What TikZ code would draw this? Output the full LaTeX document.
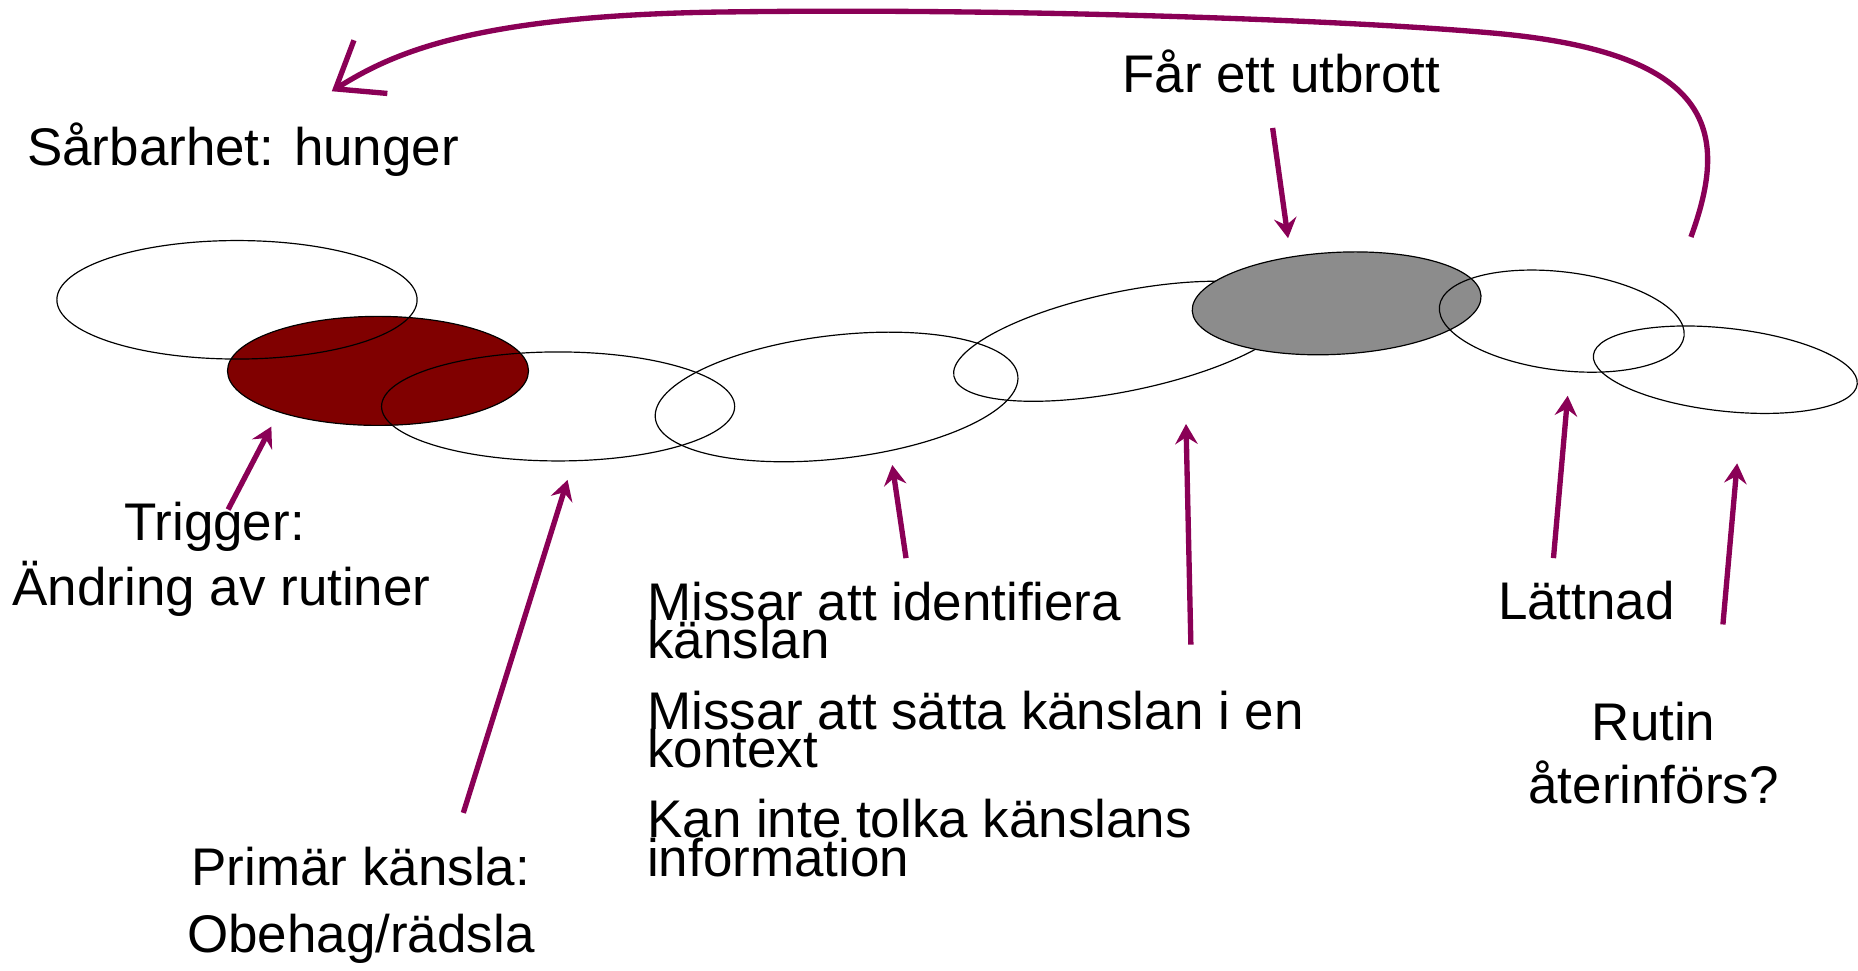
\documentclass[tikz,border=0pt]{standalone}
\usepackage{fontspec}
\setmainfont{Liberation Sans}
\usetikzlibrary{shapes.geometric, arrows.meta}
\definecolor{arrowpurple}{RGB}{138,0,86}
\definecolor{darkred}{RGB}{128,0,0}
\definecolor{midgray}{RGB}{140,140,140}
\begin{document}
\begin{tikzpicture}[x=1pt,y=-1pt,
  lbl/.style={inner sep=0pt, font=\fontsize{44.7}{50}\selectfont},
  blob/.style={ellipse, draw=black, line width=1pt, inner sep=0pt},
  arr/.style={draw=arrowpurple, line width=4.5pt, -{Stealth[length=17pt,width=19pt,inset=6pt]}},
  loop/.style={draw=arrowpurple, line width=4.5pt, -{Straight Barb[length=35pt,width=53pt]}}
]
\useasboundingbox (0,0) rectangle (1568,819);

% ellipses (drawing order matters)
\node[blob, minimum width=294pt, minimum height=84pt, rotate=11.6] (e5) at (949,288) {};
\node[blob, fill=darkred, minimum width=254pt, minimum height=92pt] (e2) at (319,313) {};
\node[blob, fill=midgray, minimum width=244pt, minimum height=86pt, rotate=3] (e6) at (1128,256) {};
\node[blob, minimum width=304pt, minimum height=100pt] (e1) at (200,253) {};
\node[blob, minimum width=298pt, minimum height=92pt] (e3) at (471,343) {};
\node[blob, minimum width=308pt, minimum height=104pt, rotate=6.7] (e4) at (706,335) {};
\node[blob, minimum width=208pt, minimum height=83pt, rotate=-7] (e7) at (1318,271) {};
\node[blob, minimum width=224pt, minimum height=70pt, rotate=-6.3] (e8) at (1456,312) {};

% labels
\node[lbl, anchor=base west] (vuln) at (22.7,139.8) {Sårbarhet: hunger};
\node[lbl, anchor=base west] (outburst) at (947,78) {Får ett utbrott};
\node[lbl, anchor=base] (trig1) at (181,456.5) {Trigger:};
\node[lbl, anchor=base] (trig2) at (187,510.6) {Ändring av rutiner};
\node[lbl, anchor=base] (prim1) at (304.5,747.7) {Primär känsla:};
\node[lbl, anchor=base] (prim2) at (304.5,804) {Obehag/rädsla};
\node[lbl, anchor=base west] (m1a) at (546,523.8) {Missar att identifiera};
\node[lbl, anchor=base west] (m1b) at (546,555.6) {känslan};
\node[lbl, anchor=base west] (m2a) at (546,616) {Missar att sätta känslan i en};
\node[lbl, anchor=base west] (m2b) at (546,647.5) {kontext};
\node[lbl, anchor=base west] (m3a) at (546,706.6) {Kan inte tolka känslans};
\node[lbl, anchor=base west] (m3b) at (546,739.3) {information};
\node[lbl, anchor=base west] (relief) at (1264,522.5) {Lättnad};
\node[lbl, anchor=base] (rut1) at (1395.5,624.5) {Rutin};
\node[lbl, anchor=base] (rut2) at (1395.5,678) {återinförs?};

% arrow end points
\coordinate (a1s) at (192.5,430);  \coordinate (a1e) at (229,360);
\coordinate (a2s) at (391,686);    \coordinate (a2e) at (479,405);
\coordinate (a3s) at (764.6,471);  \coordinate (a3e) at (753,392.4);
\coordinate (a4s) at (1005,544);   \coordinate (a4e) at (1000.9,357.8);
\coordinate (a5s) at (1074,108);   \coordinate (a5e) at (1087,201);
\coordinate (a6s) at (1311,471);   \coordinate (a6e) at (1323,334);
\coordinate (a7s) at (1454,527);   \coordinate (a7e) at (1466,391);
\coordinate (loopS) at (1427,200); \coordinate (loopE) at (280,77);
\coordinate (loopA) at (1261,28);  \coordinate (loopB) at (620,10);

\draw[arr] (a1s) -- (a1e);
\draw[arr] (a2s) -- (a2e);
\draw[arr] (a3s) -- (a3e);
\draw[arr] (a4s) -- (a4e);
\draw[arr] (a5s) -- (a5e);
\draw[arr] (a6s) -- (a6e);
\draw[arr] (a7s) -- (a7e);

\draw[loop] (loopS) .. controls (1458,115) and (1452,45) .. (loopA)
  .. controls (1131,16.4) and (850,7) .. (loopB)
  .. controls (400,12) and (331,45) .. (loopE);
\end{tikzpicture}
\end{document}
